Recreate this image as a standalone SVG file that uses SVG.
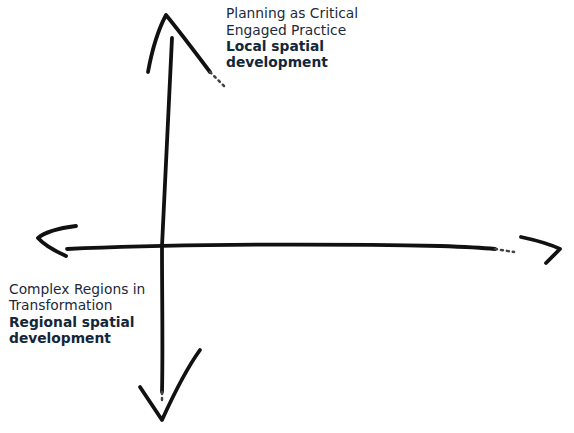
<svg xmlns="http://www.w3.org/2000/svg" width="574" height="433" viewBox="0 0 574 433">
<style>
.ln{fill:none;stroke:#111;stroke-width:3.8;stroke-linecap:round;stroke-linejoin:round}
.fd{fill:none;stroke:#444;stroke-width:2.5;stroke-linecap:round;stroke-dasharray:2 4}
text{font-family:"DejaVu Sans",Verdana,sans-serif;font-size:13.8px;fill:#1c2a3a}
.b{font-weight:bold;fill:#13263a}
</style>
<rect width="574" height="433" fill="#fff"/>
<g id="connectors">
<path class="ln" d="M172,38 C169,90 166,160 162,246 C162,300 163,350 162,392"/>
<path class="fd" d="M162,392 L162,400"/>
<path class="ln" d="M148,72 C152,50 158,30 166,15 C180,32 195,52 210,72"/>
<path class="fd" d="M210,72 L224,86"/>
<path class="ln" d="M140,387 L162,420 C172,398 184,372 200,350"/>
<path class="ln" d="M67,249 C150,245 300,243 440,246 C470,247 485,248 495,249"/>
<path class="fd" d="M495,249 L514,252"/>
<path class="ln" d="M76,226 C60,228 45,232 38,238 C45,246 55,251 66,256"/>
<path class="ln" d="M521,237 C535,240 550,244 560,249 C555,254 550,259 546,263"/>
</g>
<g id="top-label">
<text x="226" y="18">Planning as Critical</text>
<text x="226" y="35">Engaged Practice</text>
<text class="b" x="226" y="51">Local spatial</text>
<text class="b" x="226" y="67">development</text>
</g>
<g id="left-label">
<text x="9" y="294">Complex Regions in</text>
<text x="9" y="310">Transformation</text>
<text class="b" x="9" y="327">Regional spatial</text>
<text class="b" x="9" y="343">development</text>
</g>
</svg>
